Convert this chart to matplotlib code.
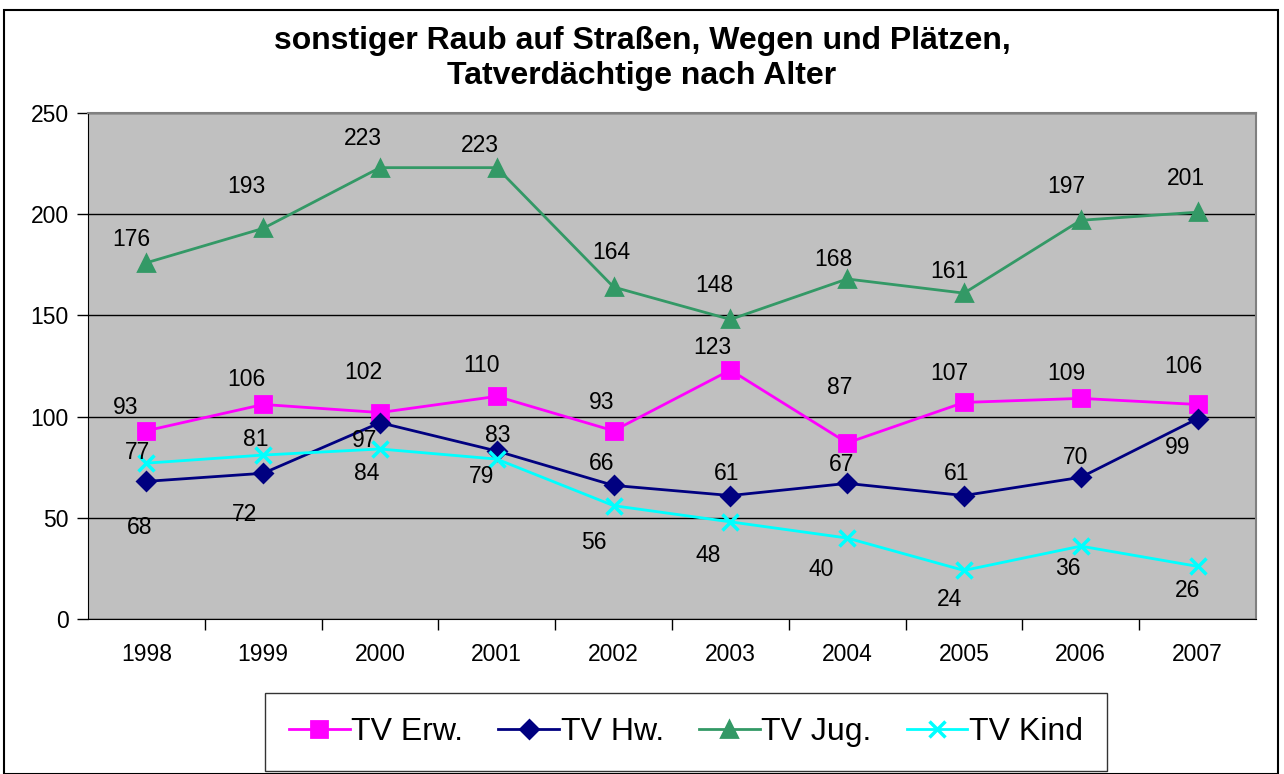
import numpy as np
import matplotlib.pyplot as plt
from matplotlib.patches import Rectangle

plt.rcParams['font.family'] = ['Liberation Sans', 'DejaVu Sans']

# Daten
jahre = ['1998', '1999', '2000', '2001', '2002', '2003', '2004', '2005', '2006', '2007']
tv_erw = [93, 106, 102, 110, 93, 123, 87, 107, 109, 106]
tv_hw = [68, 72, 97, 83, 66, 61, 67, 61, 70, 99]
tv_jug = [176, 193, 223, 223, 164, 148, 168, 161, 197, 201]
tv_kind = [77, 81, 84, 79, 56, 48, 40, 24, 36, 26]

# Verschiebung der Datenbeschriftungen (Pixel, dx, dy nach oben)
off_erw = [(-21, 23), (-17, 25), (-17, 40), (-15, 31), (-12, 28), (-18, 23), (-8, 55), (-15, 29), (-14, 25), (-14, 38)]
off_hw = [(-7, -46), (-19, -41), (-15, -18), (1, 16), (-12, 22), (-4, 22), (-6, 19), (-7, 22), (-5, 20), (-20, -29)]
off_jug = [(-15, 23), (-17, 42), (-17, 29), (-17, 22), (-2, 35), (-16, 34), (-14, 19), (-15, 22), (-14, 34), (-12, 34)]
off_kind = [(-9, 11), (-7, 16), (-13, -25), (-15, -17), (-20, -37), (-22, -34), (-26, -31), (-15, -29), (-13, -22), (-10, -24)]

fig = plt.figure(figsize=(12.84, 7.74), dpi=100)
ax = fig.add_axes([88 / 1284, 1 - 619 / 774, 1168 / 1284, 506 / 774])
ax.set_facecolor('#C0C0C0')

x = np.arange(len(jahre))
serien = [
    ('TV Erw.', tv_erw, off_erw, '#FF00FF', 's', 11, 2),
    ('TV Hw.', tv_hw, off_hw, '#000080', 'D', 9, 2),
    ('TV Jug.', tv_jug, off_jug, '#339966', '^', 11, 2),
    ('TV Kind', tv_kind, off_kind, '#00FFFF', 'x', 12, 2.5),
]
for name, werte, offs, farbe, marker, ms, mew in serien:
    ax.plot(x, werte, color=farbe, lw=2, marker=marker, ms=ms, mew=mew,
            label=name, zorder=3)
    for xi, v, (dx, dy) in zip(x, werte, offs):
        ax.annotate(str(v), (xi, v), xytext=(dx, dy), textcoords='offset pixels',
                    ha='center', va='center', fontsize=16.5, zorder=4)

ax.set_xlim(-0.5, len(jahre) - 0.5)
ax.set_ylim(0, 250)
ax.set_yticks(range(0, 251, 50))
ax.yaxis.grid(True, color='black', lw=1)
ax.set_axisbelow(True)
ax.set_xticks(x)
ax.set_xticklabels(jahre)
ax.set_xticks(np.arange(0.5, len(jahre) - 1, 1), minor=True)
ax.tick_params(axis='x', which='major', length=0, labelsize=16.5, pad=17)
ax.tick_params(axis='x', which='minor', length=8, width=1, color='black')
ax.tick_params(axis='y', length=8, width=1, labelsize=16.5, pad=6)
ax.spines['top'].set_color('#808080')
ax.spines['right'].set_color('#808080')
ax.spines['top'].set_linewidth(1.5)
ax.spines['right'].set_linewidth(1.5)

fig.text(0.5, 1 - 41 / 774, 'sonstiger Raub auf Straßen, Wegen und Plätzen,',
         ha='center', va='center', fontsize=23, fontweight='bold')
fig.text(0.5, 1 - 76 / 774, 'Tatverdächtige nach Alter',
         ha='center', va='center', fontsize=23, fontweight='bold')

leg = fig.legend(loc='center', bbox_to_anchor=(686 / 1284, 1 - 732 / 774), ncol=4,
                 fontsize=23, frameon=True, fancybox=False, edgecolor='black',
                 handlelength=1.9, handletextpad=0.05, columnspacing=1.1,
                 borderpad=0.75, borderaxespad=0)
leg.get_frame().set_linewidth(1)

fig.patches.append(Rectangle((4 / 1284, 0), 1274 / 1284, 1 - 10 / 774,
                             transform=fig.transFigure, fill=False,
                             edgecolor='black', lw=1.5))

plt.savefig('out.png', dpi=100)
